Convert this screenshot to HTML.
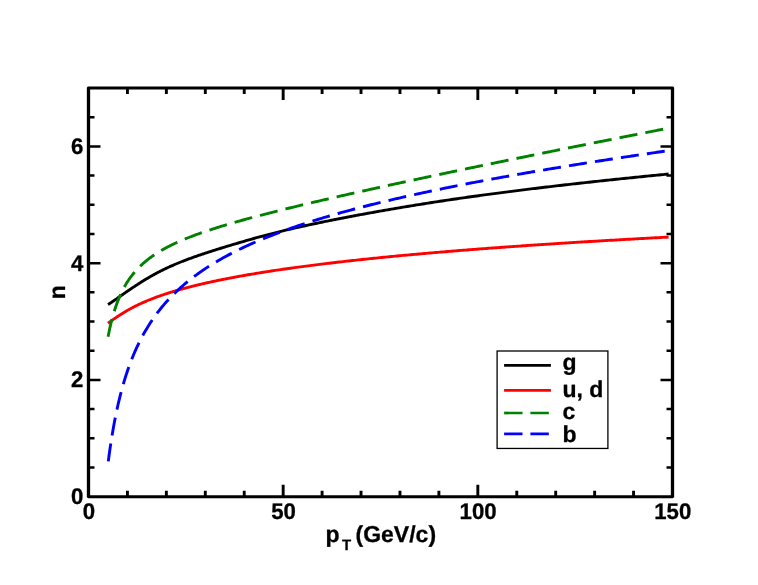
<!DOCTYPE html>
<html><head><meta charset="utf-8"><title>n vs pT</title>
<style>
html,body{margin:0;padding:0;background:#fff;}
svg{display:block;}
text{font-family:"Liberation Sans",sans-serif;font-weight:bold;fill:#000;stroke:#000;stroke-width:0.3px;stroke-linejoin:round;text-rendering:geometricPrecision;}
</style></head><body>
<div style="will-change:transform;width:758px;height:585px;">
<svg width="758" height="585" viewBox="0 0 758 585">
<rect x="0" y="0" width="758" height="585" fill="#fff"/>
<g fill="none" stroke-linejoin="round">
<path d="M107.97,304.58 L108.58,304.21 L109.19,303.83 L109.80,303.44 L110.42,303.04 L111.03,302.64 L111.64,302.23 L112.25,301.82 L112.86,301.41 L113.48,300.99 L114.09,300.56 L114.70,300.14 L115.31,299.71 L115.92,299.28 L116.54,298.86 L117.15,298.42 L117.76,297.99 L118.37,297.56 L118.99,297.13 L119.60,296.70 L120.21,296.27 L120.82,295.83 L121.43,295.40 L122.05,294.97 L122.66,294.54 L123.27,294.11 L123.88,293.68 L124.49,293.26 L125.11,292.83 L125.72,292.40 L126.33,291.98 L126.94,291.56 L127.56,291.14 L128.17,290.72 L128.78,290.30 L129.39,289.88 L130.00,289.46 L130.62,289.05 L131.23,288.63 L131.84,288.22 L132.45,287.81 L133.07,287.40 L133.68,287.00 L134.29,286.59 L134.90,286.19 L135.51,285.79 L136.13,285.38 L136.74,284.99 L137.35,284.59 L137.96,284.19 L138.57,283.80 L139.19,283.41 L139.80,283.02 L140.41,282.63 L141.02,282.24 L141.64,281.85 L142.25,281.47 L142.86,281.09 L143.47,280.71 L144.08,280.34 L144.70,279.96 L145.31,279.59 L145.92,279.22 L146.53,278.85 L147.14,278.49 L147.76,278.13 L148.37,277.77 L148.98,277.41 L149.59,277.05 L150.21,276.70 L150.82,276.35 L151.43,276.00 L152.04,275.65 L152.65,275.31 L153.27,274.97 L153.88,274.63 L154.49,274.30 L155.10,273.96 L155.72,273.63 L156.33,273.30 L156.94,272.98 L157.55,272.65 L158.16,272.33 L158.78,272.01 L159.39,271.70 L160.00,271.38 L160.61,271.07 L161.22,270.76 L161.84,270.45 L162.45,270.15 L163.06,269.85 L163.67,269.55 L164.29,269.25 L164.90,268.95 L165.51,268.66 L166.12,268.37 L166.73,268.08 L167.35,267.79 L167.96,267.51 L168.57,267.23 L169.18,266.95 L169.79,266.67 L170.41,266.39 L171.02,266.12 L171.63,265.85 L172.24,265.58 L172.86,265.31 L173.47,265.05 L174.08,264.79 L174.69,264.52 L175.30,264.26 L175.92,264.01 L176.53,263.75 L177.14,263.50 L177.75,263.24 L178.36,262.99 L178.98,262.74 L179.59,262.50 L180.20,262.25 L180.81,262.00 L181.43,261.76 L182.04,261.52 L182.65,261.28 L183.26,261.04 L183.87,260.80 L184.49,260.57 L185.10,260.33 L185.71,260.10 L186.32,259.87 L186.94,259.63 L187.55,259.40 L188.16,259.18 L188.77,258.95 L189.38,258.72 L190.00,258.50 L190.61,258.27 L191.22,258.05 L191.83,257.83 L192.44,257.61 L193.06,257.39 L193.67,257.17 L194.28,256.95 L194.89,256.73 L195.51,256.52 L196.12,256.30 L196.73,256.09 L197.34,255.88 L197.95,255.66 L198.57,255.45 L199.18,255.24 L199.79,255.03 L200.40,254.82 L201.01,254.62 L201.63,254.41 L202.24,254.20 L202.85,254.00 L203.46,253.79 L204.08,253.59 L204.69,253.38 L205.30,253.18 L207.24,252.55 L209.18,251.92 L211.12,251.29 L213.05,250.67 L214.99,250.06 L216.93,249.45 L218.87,248.85 L220.81,248.25 L222.75,247.65 L224.69,247.06 L226.62,246.47 L228.56,245.88 L230.50,245.30 L232.44,244.72 L234.38,244.14 L236.32,243.57 L238.25,243.00 L240.19,242.43 L242.13,241.86 L244.07,241.29 L246.01,240.73 L247.95,240.17 L249.89,239.61 L251.82,239.05 L253.76,238.50 L255.70,237.95 L257.64,237.41 L259.58,236.87 L261.52,236.34 L263.46,235.82 L265.39,235.30 L267.33,234.78 L269.27,234.28 L271.21,233.78 L273.15,233.28 L275.09,232.79 L277.03,232.31 L278.96,231.83 L280.90,231.35 L282.84,230.88 L284.78,230.41 L286.72,229.95 L288.66,229.49 L290.59,229.04 L292.53,228.59 L294.47,228.14 L296.41,227.70 L298.35,227.26 L300.29,226.83 L302.23,226.39 L304.16,225.97 L306.10,225.54 L308.04,225.12 L309.98,224.70 L311.92,224.28 L313.86,223.87 L315.80,223.46 L317.73,223.05 L319.67,222.65 L321.61,222.25 L323.55,221.85 L325.49,221.45 L327.43,221.06 L329.37,220.67 L331.30,220.28 L333.24,219.89 L335.18,219.50 L337.12,219.12 L339.06,218.74 L341.00,218.36 L342.94,217.99 L344.87,217.61 L346.81,217.24 L348.75,216.87 L350.69,216.50 L352.63,216.13 L354.57,215.77 L356.50,215.41 L358.44,215.04 L360.38,214.68 L362.32,214.33 L364.26,213.97 L366.20,213.62 L368.14,213.26 L370.07,212.91 L372.01,212.56 L373.95,212.21 L375.89,211.86 L377.83,211.52 L379.77,211.17 L381.71,210.83 L383.64,210.49 L385.58,210.15 L387.52,209.82 L389.46,209.48 L391.40,209.15 L393.34,208.81 L395.28,208.48 L397.21,208.15 L399.15,207.82 L401.09,207.50 L403.03,207.17 L404.97,206.85 L406.91,206.53 L408.84,206.21 L410.78,205.89 L412.72,205.57 L414.66,205.26 L416.60,204.94 L418.54,204.63 L420.48,204.32 L422.41,204.01 L424.35,203.70 L426.29,203.40 L428.23,203.09 L430.17,202.79 L432.11,202.49 L434.05,202.19 L435.98,201.89 L437.92,201.59 L439.86,201.30 L441.80,201.00 L443.74,200.71 L445.68,200.42 L447.62,200.13 L449.55,199.84 L451.49,199.55 L453.43,199.27 L455.37,198.98 L457.31,198.70 L459.25,198.42 L461.18,198.14 L463.12,197.86 L465.06,197.59 L467.00,197.31 L468.94,197.04 L470.88,196.76 L472.82,196.49 L474.75,196.22 L476.69,195.95 L478.63,195.69 L480.57,195.42 L482.51,195.16 L484.45,194.89 L486.39,194.63 L488.32,194.37 L490.26,194.11 L492.20,193.85 L494.14,193.59 L496.08,193.34 L498.02,193.08 L499.96,192.83 L501.89,192.57 L503.83,192.32 L505.77,192.07 L507.71,191.82 L509.65,191.57 L511.59,191.33 L513.52,191.08 L515.46,190.84 L517.40,190.59 L519.34,190.35 L521.28,190.11 L523.22,189.86 L525.16,189.62 L527.09,189.39 L529.03,189.15 L530.97,188.91 L532.91,188.67 L534.85,188.44 L536.79,188.20 L538.73,187.97 L540.66,187.74 L542.60,187.51 L544.54,187.27 L546.48,187.04 L548.42,186.82 L550.36,186.59 L552.30,186.36 L554.23,186.13 L556.17,185.91 L558.11,185.68 L560.05,185.46 L561.99,185.24 L563.93,185.01 L565.87,184.79 L567.80,184.57 L569.74,184.35 L571.68,184.13 L573.62,183.91 L575.56,183.70 L577.50,183.48 L579.43,183.26 L581.37,183.05 L583.31,182.83 L585.25,182.62 L587.19,182.41 L589.13,182.19 L591.07,181.98 L593.00,181.77 L594.94,181.56 L596.88,181.35 L598.82,181.14 L600.76,180.93 L602.70,180.73 L604.64,180.52 L606.57,180.31 L608.51,180.11 L610.45,179.90 L612.39,179.70 L614.33,179.49 L616.27,179.29 L618.21,179.09 L620.14,178.89 L622.08,178.68 L624.02,178.48 L625.96,178.28 L627.90,178.08 L629.84,177.88 L631.77,177.69 L633.71,177.49 L635.65,177.29 L637.59,177.10 L639.53,176.90 L641.47,176.70 L643.41,176.51 L645.34,176.31 L647.28,176.12 L649.22,175.93 L651.16,175.74 L653.10,175.54 L655.04,175.35 L656.98,175.16 L658.91,174.97 L660.85,174.78 L662.79,174.59 L664.73,174.40 L666.67,174.21 L668.61,174.03" stroke="#000" stroke-width="2.9"/>
<path d="M107.97,323.21 L108.58,322.78 L109.19,322.35 L109.80,321.92 L110.42,321.49 L111.03,321.06 L111.64,320.63 L112.25,320.20 L112.86,319.77 L113.48,319.34 L114.09,318.91 L114.70,318.49 L115.31,318.07 L115.92,317.65 L116.54,317.24 L117.15,316.82 L117.76,316.42 L118.37,316.01 L118.99,315.61 L119.60,315.21 L120.21,314.82 L120.82,314.42 L121.43,314.04 L122.05,313.65 L122.66,313.27 L123.27,312.90 L123.88,312.52 L124.49,312.15 L125.11,311.79 L125.72,311.43 L126.33,311.07 L126.94,310.71 L127.56,310.36 L128.17,310.01 L128.78,309.67 L129.39,309.33 L130.00,308.99 L130.62,308.66 L131.23,308.33 L131.84,308.00 L132.45,307.67 L133.07,307.35 L133.68,307.04 L134.29,306.72 L134.90,306.41 L135.51,306.10 L136.13,305.80 L136.74,305.49 L137.35,305.19 L137.96,304.90 L138.57,304.61 L139.19,304.31 L139.80,304.03 L140.41,303.74 L141.02,303.46 L141.64,303.18 L142.25,302.90 L142.86,302.63 L143.47,302.36 L144.08,302.09 L144.70,301.82 L145.31,301.56 L145.92,301.30 L146.53,301.04 L147.14,300.78 L147.76,300.53 L148.37,300.27 L148.98,300.02 L149.59,299.77 L150.21,299.53 L150.82,299.28 L151.43,299.04 L152.04,298.80 L152.65,298.56 L153.27,298.33 L153.88,298.09 L154.49,297.86 L155.10,297.63 L155.72,297.40 L156.33,297.18 L156.94,296.95 L157.55,296.73 L158.16,296.51 L158.78,296.29 L159.39,296.07 L160.00,295.86 L160.61,295.64 L161.22,295.43 L161.84,295.22 L162.45,295.01 L163.06,294.80 L163.67,294.60 L164.29,294.39 L164.90,294.19 L165.51,293.99 L166.12,293.79 L166.73,293.59 L167.35,293.39 L167.96,293.19 L168.57,293.00 L169.18,292.80 L169.79,292.61 L170.41,292.42 L171.02,292.23 L171.63,292.04 L172.24,291.85 L172.86,291.67 L173.47,291.48 L174.08,291.30 L174.69,291.12 L175.30,290.94 L175.92,290.76 L176.53,290.58 L177.14,290.40 L177.75,290.22 L178.36,290.05 L178.98,289.87 L179.59,289.70 L180.20,289.52 L180.81,289.35 L181.43,289.18 L182.04,289.01 L182.65,288.84 L183.26,288.68 L183.87,288.51 L184.49,288.34 L185.10,288.18 L185.71,288.02 L186.32,287.85 L186.94,287.69 L187.55,287.53 L188.16,287.37 L188.77,287.21 L189.38,287.05 L190.00,286.89 L190.61,286.74 L191.22,286.58 L191.83,286.42 L192.44,286.27 L193.06,286.12 L193.67,285.96 L194.28,285.81 L194.89,285.66 L195.51,285.51 L196.12,285.36 L196.73,285.21 L197.34,285.06 L197.95,284.92 L198.57,284.77 L199.18,284.62 L199.79,284.48 L200.40,284.33 L201.01,284.19 L201.63,284.05 L202.24,283.90 L202.85,283.76 L203.46,283.62 L204.08,283.48 L204.69,283.34 L205.30,283.20 L207.24,282.76 L209.18,282.33 L211.12,281.91 L213.05,281.49 L214.99,281.08 L216.93,280.67 L218.87,280.27 L220.81,279.87 L222.75,279.48 L224.69,279.09 L226.62,278.71 L228.56,278.33 L230.50,277.96 L232.44,277.59 L234.38,277.23 L236.32,276.87 L238.25,276.52 L240.19,276.16 L242.13,275.82 L244.07,275.47 L246.01,275.13 L247.95,274.80 L249.89,274.47 L251.82,274.14 L253.76,273.81 L255.70,273.49 L257.64,273.17 L259.58,272.85 L261.52,272.54 L263.46,272.23 L265.39,271.92 L267.33,271.62 L269.27,271.32 L271.21,271.02 L273.15,270.73 L275.09,270.44 L277.03,270.15 L278.96,269.86 L280.90,269.57 L282.84,269.29 L284.78,269.01 L286.72,268.74 L288.66,268.46 L290.59,268.19 L292.53,267.92 L294.47,267.65 L296.41,267.39 L298.35,267.12 L300.29,266.86 L302.23,266.60 L304.16,266.35 L306.10,266.09 L308.04,265.84 L309.98,265.59 L311.92,265.34 L313.86,265.10 L315.80,264.85 L317.73,264.61 L319.67,264.37 L321.61,264.13 L323.55,263.89 L325.49,263.65 L327.43,263.42 L329.37,263.19 L331.30,262.96 L333.24,262.73 L335.18,262.50 L337.12,262.28 L339.06,262.05 L341.00,261.83 L342.94,261.61 L344.87,261.39 L346.81,261.17 L348.75,260.96 L350.69,260.74 L352.63,260.53 L354.57,260.32 L356.50,260.11 L358.44,259.90 L360.38,259.69 L362.32,259.48 L364.26,259.28 L366.20,259.07 L368.14,258.87 L370.07,258.67 L372.01,258.47 L373.95,258.27 L375.89,258.07 L377.83,257.88 L379.77,257.68 L381.71,257.49 L383.64,257.30 L385.58,257.10 L387.52,256.91 L389.46,256.72 L391.40,256.54 L393.34,256.35 L395.28,256.16 L397.21,255.98 L399.15,255.79 L401.09,255.61 L403.03,255.43 L404.97,255.25 L406.91,255.07 L408.84,254.89 L410.78,254.71 L412.72,254.54 L414.66,254.36 L416.60,254.19 L418.54,254.01 L420.48,253.84 L422.41,253.67 L424.35,253.50 L426.29,253.33 L428.23,253.16 L430.17,252.99 L432.11,252.82 L434.05,252.66 L435.98,252.49 L437.92,252.33 L439.86,252.16 L441.80,252.00 L443.74,251.84 L445.68,251.68 L447.62,251.52 L449.55,251.36 L451.49,251.20 L453.43,251.04 L455.37,250.88 L457.31,250.72 L459.25,250.57 L461.18,250.41 L463.12,250.26 L465.06,250.11 L467.00,249.95 L468.94,249.80 L470.88,249.65 L472.82,249.50 L474.75,249.35 L476.69,249.20 L478.63,249.05 L480.57,248.90 L482.51,248.76 L484.45,248.61 L486.39,248.46 L488.32,248.32 L490.26,248.17 L492.20,248.03 L494.14,247.89 L496.08,247.75 L498.02,247.60 L499.96,247.46 L501.89,247.32 L503.83,247.18 L505.77,247.04 L507.71,246.90 L509.65,246.76 L511.59,246.63 L513.52,246.49 L515.46,246.35 L517.40,246.22 L519.34,246.08 L521.28,245.95 L523.22,245.81 L525.16,245.68 L527.09,245.55 L529.03,245.41 L530.97,245.28 L532.91,245.15 L534.85,245.02 L536.79,244.89 L538.73,244.76 L540.66,244.63 L542.60,244.50 L544.54,244.37 L546.48,244.25 L548.42,244.12 L550.36,243.99 L552.30,243.87 L554.23,243.74 L556.17,243.62 L558.11,243.49 L560.05,243.37 L561.99,243.24 L563.93,243.12 L565.87,243.00 L567.80,242.88 L569.74,242.75 L571.68,242.63 L573.62,242.51 L575.56,242.39 L577.50,242.27 L579.43,242.15 L581.37,242.03 L583.31,241.91 L585.25,241.80 L587.19,241.68 L589.13,241.56 L591.07,241.44 L593.00,241.33 L594.94,241.21 L596.88,241.10 L598.82,240.98 L600.76,240.87 L602.70,240.75 L604.64,240.64 L606.57,240.53 L608.51,240.41 L610.45,240.30 L612.39,240.19 L614.33,240.08 L616.27,239.96 L618.21,239.85 L620.14,239.74 L622.08,239.63 L624.02,239.52 L625.96,239.41 L627.90,239.30 L629.84,239.19 L631.77,239.09 L633.71,238.98 L635.65,238.87 L637.59,238.76 L639.53,238.66 L641.47,238.55 L643.41,238.44 L645.34,238.34 L647.28,238.23 L649.22,238.13 L651.16,238.02 L653.10,237.92 L655.04,237.81 L656.98,237.71 L658.91,237.61 L660.85,237.50 L662.79,237.40 L664.73,237.30 L666.67,237.20 L668.61,237.09" stroke="#ff0000" stroke-width="2.9"/>
<path d="M107.97,337.40 L108.58,334.20 L109.19,331.17 L109.80,328.31 L110.42,325.59 L111.03,323.01 L111.64,320.55 L112.25,318.20 L112.86,315.97 L113.48,313.83 L114.09,311.78 L114.70,309.83 L115.31,307.95 L115.92,306.14 L116.54,304.41 L117.15,302.75 L117.76,301.14 L118.37,299.60 L118.99,298.11 L119.60,296.67 L120.21,295.28 L120.82,293.94 L121.43,292.64 L122.05,291.38 L122.66,290.16 L123.27,288.98 L123.88,287.84 L124.49,286.73 L125.11,285.65 L125.72,284.61 L126.33,283.59 L126.94,282.60 L127.56,281.64 L128.17,280.70 L128.78,279.79 L129.39,278.90 L130.00,278.03 L130.62,277.18 L131.23,276.36 L131.84,275.55 L132.45,274.77 L133.07,274.00 L133.68,273.25 L134.29,272.51 L134.90,271.79 L135.51,271.09 L136.13,270.41 L136.74,269.73 L137.35,269.07 L137.96,268.43 L138.57,267.79 L139.19,267.17 L139.80,266.56 L140.41,265.97 L141.02,265.38 L141.64,264.81 L142.25,264.24 L142.86,263.69 L143.47,263.14 L144.08,262.61 L144.70,262.08 L145.31,261.57 L145.92,261.06 L146.53,260.56 L147.14,260.07 L147.76,259.58 L148.37,259.10 L148.98,258.63 L149.59,258.17 L150.21,257.72 L150.82,257.27 L151.43,256.83 L152.04,256.39 L152.65,255.96 L153.27,255.54 L153.88,255.12 L154.49,254.71 L155.10,254.30 L155.72,253.90 L156.33,253.51 L156.94,253.12 L157.55,252.73 L158.16,252.35 L158.78,251.97 L159.39,251.60 L160.00,251.23 L160.61,250.87 L161.22,250.51 L161.84,250.16 L162.45,249.81 L163.06,249.46 L163.67,249.12 L164.29,248.78 L164.90,248.44 L165.51,248.11 L166.12,247.78 L166.73,247.46 L167.35,247.14 L167.96,246.82 L168.57,246.50 L169.18,246.19 L169.79,245.88 L170.41,245.58 L171.02,245.27 L171.63,244.97 L172.24,244.67 L172.86,244.38 L173.47,244.09 L174.08,243.80 L174.69,243.51 L175.30,243.23 L175.92,242.94 L176.53,242.66 L177.14,242.39 L177.75,242.11 L178.36,241.84 L178.98,241.57 L179.59,241.30 L180.20,241.03 L180.81,240.76 L181.43,240.50 L182.04,240.24 L182.65,239.98 L183.26,239.72 L183.87,239.47 L184.49,239.22 L185.10,238.96 L185.71,238.71 L186.32,238.47 L186.94,238.22 L187.55,237.97 L188.16,237.73 L188.77,237.49 L189.38,237.25 L190.00,237.01 L190.61,236.77 L191.22,236.54 L191.83,236.30 L192.44,236.07 L193.06,235.84 L193.67,235.61 L194.28,235.38 L194.89,235.15 L195.51,234.93 L196.12,234.70 L196.73,234.48 L197.34,234.26 L197.95,234.03 L198.57,233.81 L199.18,233.60 L199.79,233.38 L200.40,233.16 L201.01,232.95 L201.63,232.73 L202.24,232.52 L202.85,232.30 L203.46,232.09 L204.08,231.88 L204.69,231.67 L205.30,231.47 L207.24,230.81 L209.18,230.17 L211.12,229.53 L213.05,228.90 L214.99,228.28 L216.93,227.67 L218.87,227.07 L220.81,226.47 L222.75,225.88 L224.69,225.29 L226.62,224.71 L228.56,224.14 L230.50,223.57 L232.44,223.01 L234.38,222.45 L236.32,221.90 L238.25,221.35 L240.19,220.80 L242.13,220.26 L244.07,219.73 L246.01,219.19 L247.95,218.67 L249.89,218.14 L251.82,217.62 L253.76,217.10 L255.70,216.59 L257.64,216.07 L259.58,215.56 L261.52,215.06 L263.46,214.56 L265.39,214.06 L267.33,213.56 L269.27,213.06 L271.21,212.57 L273.15,212.08 L275.09,211.59 L277.03,211.10 L278.96,210.62 L280.90,210.14 L282.84,209.66 L284.78,209.18 L286.72,208.70 L288.66,208.23 L290.59,207.76 L292.53,207.29 L294.47,206.82 L296.41,206.35 L298.35,205.88 L300.29,205.42 L302.23,204.95 L304.16,204.49 L306.10,204.03 L308.04,203.57 L309.98,203.12 L311.92,202.66 L313.86,202.21 L315.80,201.75 L317.73,201.30 L319.67,200.85 L321.61,200.40 L323.55,199.95 L325.49,199.50 L327.43,199.05 L329.37,198.61 L331.30,198.16 L333.24,197.72 L335.18,197.28 L337.12,196.83 L339.06,196.39 L341.00,195.95 L342.94,195.51 L344.87,195.08 L346.81,194.64 L348.75,194.20 L350.69,193.77 L352.63,193.33 L354.57,192.90 L356.50,192.46 L358.44,192.03 L360.38,191.60 L362.32,191.17 L364.26,190.74 L366.20,190.31 L368.14,189.88 L370.07,189.45 L372.01,189.02 L373.95,188.59 L375.89,188.17 L377.83,187.74 L379.77,187.32 L381.71,186.89 L383.64,186.47 L385.58,186.04 L387.52,185.62 L389.46,185.20 L391.40,184.78 L393.34,184.36 L395.28,183.93 L397.21,183.51 L399.15,183.10 L401.09,182.68 L403.03,182.26 L404.97,181.84 L406.91,181.42 L408.84,181.00 L410.78,180.59 L412.72,180.17 L414.66,179.76 L416.60,179.34 L418.54,178.93 L420.48,178.51 L422.41,178.10 L424.35,177.69 L426.29,177.27 L428.23,176.86 L430.17,176.45 L432.11,176.04 L434.05,175.63 L435.98,175.22 L437.92,174.80 L439.86,174.39 L441.80,173.99 L443.74,173.58 L445.68,173.17 L447.62,172.76 L449.55,172.35 L451.49,171.94 L453.43,171.54 L455.37,171.13 L457.31,170.72 L459.25,170.32 L461.18,169.91 L463.12,169.51 L465.06,169.10 L467.00,168.70 L468.94,168.29 L470.88,167.89 L472.82,167.48 L474.75,167.08 L476.69,166.68 L478.63,166.28 L480.57,165.87 L482.51,165.47 L484.45,165.07 L486.39,164.67 L488.32,164.27 L490.26,163.87 L492.20,163.47 L494.14,163.07 L496.08,162.67 L498.02,162.27 L499.96,161.87 L501.89,161.47 L503.83,161.07 L505.77,160.67 L507.71,160.28 L509.65,159.88 L511.59,159.48 L513.52,159.08 L515.46,158.69 L517.40,158.29 L519.34,157.90 L521.28,157.50 L523.22,157.10 L525.16,156.71 L527.09,156.31 L529.03,155.92 L530.97,155.52 L532.91,155.13 L534.85,154.74 L536.79,154.34 L538.73,153.95 L540.66,153.56 L542.60,153.16 L544.54,152.77 L546.48,152.38 L548.42,151.99 L550.36,151.60 L552.30,151.20 L554.23,150.81 L556.17,150.42 L558.11,150.03 L560.05,149.64 L561.99,149.25 L563.93,148.86 L565.87,148.47 L567.80,148.08 L569.74,147.69 L571.68,147.30 L573.62,146.91 L575.56,146.53 L577.50,146.14 L579.43,145.75 L581.37,145.36 L583.31,144.97 L585.25,144.59 L587.19,144.20 L589.13,143.81 L591.07,143.43 L593.00,143.04 L594.94,142.65 L596.88,142.27 L598.82,141.88 L600.76,141.50 L602.70,141.11 L604.64,140.73 L606.57,140.34 L608.51,139.96 L610.45,139.57 L612.39,139.19 L614.33,138.81 L616.27,138.42 L618.21,138.04 L620.14,137.66 L622.08,137.27 L624.02,136.89 L625.96,136.51 L627.90,136.13 L629.84,135.74 L631.77,135.36 L633.71,134.98 L635.65,134.60 L637.59,134.22 L639.53,133.84 L641.47,133.46 L643.41,133.08 L645.34,132.70 L647.28,132.32 L649.22,131.94 L651.16,131.56 L653.10,131.18 L655.04,130.80 L656.98,130.42 L658.91,130.04 L660.85,129.66 L662.79,129.28 L664.73,128.90 L666.67,128.53 L668.61,128.15" stroke="#008200" stroke-width="2.9" stroke-dasharray="18.18 8.1" stroke-dashoffset="-0.6"/>
<path d="M108.25,461.67 L108.86,457.01 L109.47,452.55 L110.08,448.26 L110.69,444.14 L111.30,440.19 L111.91,436.38 L112.52,432.70 L113.13,429.17 L113.74,425.75 L114.35,422.45 L114.96,419.26 L115.57,416.18 L116.18,413.19 L116.79,410.30 L117.40,407.49 L118.01,404.77 L118.62,402.13 L119.23,399.57 L119.84,397.08 L120.46,394.66 L121.07,392.30 L121.68,390.01 L122.29,387.78 L122.90,385.60 L123.51,383.48 L124.12,381.41 L124.73,379.40 L125.34,377.43 L125.95,375.50 L126.56,373.63 L127.17,371.79 L127.78,370.00 L128.39,368.24 L129.00,366.53 L129.61,364.85 L130.22,363.20 L130.83,361.59 L131.44,360.02 L132.05,358.47 L132.66,356.95 L133.27,355.47 L133.88,354.01 L134.49,352.58 L135.10,351.18 L135.72,349.80 L136.33,348.45 L136.94,347.12 L137.55,345.82 L138.16,344.54 L138.77,343.28 L139.38,342.04 L139.99,340.82 L140.60,339.63 L141.21,338.45 L141.82,337.29 L142.43,336.15 L143.04,335.03 L143.65,333.92 L144.26,332.83 L144.87,331.76 L145.48,330.71 L146.09,329.67 L146.70,328.64 L147.31,327.63 L147.92,326.64 L148.53,325.66 L149.14,324.69 L149.75,323.74 L150.36,322.80 L150.97,321.87 L151.59,320.95 L152.20,320.05 L152.81,319.16 L153.42,318.28 L154.03,317.41 L154.64,316.55 L155.25,315.70 L155.86,314.87 L156.47,314.04 L157.08,313.22 L157.69,312.42 L158.30,311.62 L158.91,310.83 L159.52,310.05 L160.13,309.28 L160.74,308.52 L161.35,307.77 L161.96,307.03 L162.57,306.29 L163.18,305.57 L163.79,304.85 L164.40,304.14 L165.01,303.43 L165.62,302.74 L166.23,302.05 L166.85,301.37 L167.46,300.69 L168.07,300.02 L168.68,299.36 L169.29,298.71 L169.90,298.06 L170.51,297.42 L171.12,296.79 L171.73,296.16 L172.34,295.54 L172.95,294.92 L173.56,294.31 L174.17,293.70 L174.78,293.10 L175.39,292.51 L176.00,291.92 L176.61,291.34 L177.22,290.76 L177.83,290.19 L178.44,289.62 L179.05,289.06 L179.66,288.50 L180.27,287.95 L180.88,287.40 L181.49,286.86 L182.11,286.32 L182.72,285.79 L183.33,285.26 L183.94,284.73 L184.55,284.21 L185.16,283.69 L185.77,283.18 L186.38,282.67 L186.99,282.17 L187.60,281.67 L188.21,281.17 L188.82,280.68 L189.43,280.19 L190.04,279.71 L190.65,279.23 L191.26,278.75 L191.87,278.28 L192.48,277.81 L193.09,277.34 L193.70,276.88 L194.31,276.42 L194.92,275.96 L195.53,275.51 L196.14,275.06 L196.75,274.61 L197.36,274.17 L197.98,273.73 L198.59,273.29 L199.20,272.85 L199.81,272.42 L200.42,271.99 L201.03,271.57 L201.64,271.15 L202.25,270.73 L202.86,270.31 L203.47,269.90 L204.08,269.49 L204.69,269.08 L205.30,268.67 L207.24,267.40 L209.18,266.15 L211.12,264.93 L213.05,263.73 L214.99,262.56 L216.93,261.40 L218.87,260.27 L220.81,259.16 L222.75,258.06 L224.69,256.99 L226.62,255.93 L228.56,254.90 L230.50,253.87 L232.44,252.87 L234.38,251.88 L236.32,250.91 L238.25,249.95 L240.19,249.00 L242.13,248.07 L244.07,247.16 L246.01,246.25 L247.95,245.36 L249.89,244.48 L251.82,243.62 L253.76,242.76 L255.70,241.92 L257.64,241.09 L259.58,240.27 L261.52,239.46 L263.46,238.65 L265.39,237.86 L267.33,237.08 L269.27,236.31 L271.21,235.55 L273.15,234.79 L275.09,234.05 L277.03,233.31 L278.96,232.58 L280.90,231.86 L282.84,231.15 L284.78,230.45 L286.72,229.75 L288.66,229.06 L290.59,228.38 L292.53,227.70 L294.47,227.03 L296.41,226.37 L298.35,225.72 L300.29,225.07 L302.23,224.42 L304.16,223.79 L306.10,223.15 L308.04,222.53 L309.98,221.91 L311.92,221.30 L313.86,220.69 L315.80,220.08 L317.73,219.49 L319.67,218.89 L321.61,218.31 L323.55,217.72 L325.49,217.15 L327.43,216.57 L329.37,216.01 L331.30,215.44 L333.24,214.88 L335.18,214.33 L337.12,213.78 L339.06,213.23 L341.00,212.69 L342.94,212.15 L344.87,211.62 L346.81,211.09 L348.75,210.56 L350.69,210.04 L352.63,209.52 L354.57,209.00 L356.50,208.49 L358.44,207.99 L360.38,207.48 L362.32,206.98 L364.26,206.48 L366.20,205.99 L368.14,205.50 L370.07,205.01 L372.01,204.52 L373.95,204.04 L375.89,203.56 L377.83,203.09 L379.77,202.62 L381.71,202.15 L383.64,201.68 L385.58,201.22 L387.52,200.75 L389.46,200.30 L391.40,199.84 L393.34,199.39 L395.28,198.94 L397.21,198.49 L399.15,198.04 L401.09,197.60 L403.03,197.16 L404.97,196.72 L406.91,196.28 L408.84,195.85 L410.78,195.42 L412.72,194.99 L414.66,194.56 L416.60,194.14 L418.54,193.72 L420.48,193.30 L422.41,192.88 L424.35,192.46 L426.29,192.05 L428.23,191.64 L430.17,191.23 L432.11,190.82 L434.05,190.41 L435.98,190.01 L437.92,189.61 L439.86,189.21 L441.80,188.81 L443.74,188.41 L445.68,188.02 L447.62,187.63 L449.55,187.23 L451.49,186.84 L453.43,186.46 L455.37,186.07 L457.31,185.69 L459.25,185.30 L461.18,184.92 L463.12,184.54 L465.06,184.16 L467.00,183.79 L468.94,183.41 L470.88,183.04 L472.82,182.67 L474.75,182.30 L476.69,181.93 L478.63,181.56 L480.57,181.20 L482.51,180.83 L484.45,180.47 L486.39,180.11 L488.32,179.75 L490.26,179.39 L492.20,179.03 L494.14,178.67 L496.08,178.32 L498.02,177.96 L499.96,177.61 L501.89,177.26 L503.83,176.91 L505.77,176.56 L507.71,176.21 L509.65,175.87 L511.59,175.52 L513.52,175.18 L515.46,174.84 L517.40,174.50 L519.34,174.15 L521.28,173.82 L523.22,173.48 L525.16,173.14 L527.09,172.80 L529.03,172.47 L530.97,172.14 L532.91,171.80 L534.85,171.47 L536.79,171.14 L538.73,170.81 L540.66,170.48 L542.60,170.15 L544.54,169.83 L546.48,169.50 L548.42,169.18 L550.36,168.85 L552.30,168.53 L554.23,168.21 L556.17,167.89 L558.11,167.57 L560.05,167.25 L561.99,166.93 L563.93,166.62 L565.87,166.30 L567.80,165.98 L569.74,165.67 L571.68,165.36 L573.62,165.04 L575.56,164.73 L577.50,164.42 L579.43,164.11 L581.37,163.80 L583.31,163.49 L585.25,163.18 L587.19,162.88 L589.13,162.57 L591.07,162.27 L593.00,161.96 L594.94,161.66 L596.88,161.35 L598.82,161.05 L600.76,160.75 L602.70,160.45 L604.64,160.15 L606.57,159.85 L608.51,159.55 L610.45,159.25 L612.39,158.96 L614.33,158.66 L616.27,158.36 L618.21,158.07 L620.14,157.78 L622.08,157.48 L624.02,157.19 L625.96,156.90 L627.90,156.60 L629.84,156.31 L631.77,156.02 L633.71,155.73 L635.65,155.44 L637.59,155.16 L639.53,154.87 L641.47,154.58 L643.41,154.29 L645.34,154.01 L647.28,153.72 L649.22,153.44 L651.16,153.15 L653.10,152.87 L655.04,152.59 L656.98,152.31 L658.91,152.02 L660.85,151.74 L662.79,151.46 L664.73,151.18 L666.67,150.90 L668.61,150.62" stroke="#0000ff" stroke-width="2.9" stroke-dasharray="18.06 8.2" stroke-dashoffset="-0.3"/>
</g>
<path d="M127.43,496.7 v-6 M127.43,88.0 v6 M166.37,496.7 v-6 M166.37,88.0 v6 M205.30,496.7 v-6 M205.30,88.0 v6 M244.23,496.7 v-6 M244.23,88.0 v6 M283.17,496.7 v-12 M283.17,88.0 v12 M322.10,496.7 v-6 M322.10,88.0 v6 M361.03,496.7 v-6 M361.03,88.0 v6 M399.97,496.7 v-6 M399.97,88.0 v6 M438.90,496.7 v-6 M438.90,88.0 v6 M477.83,496.7 v-12 M477.83,88.0 v12 M516.77,496.7 v-6 M516.77,88.0 v6 M555.70,496.7 v-6 M555.70,88.0 v6 M594.63,496.7 v-6 M594.63,88.0 v6 M633.57,496.7 v-6 M633.57,88.0 v6" stroke="#000" stroke-width="2.9" fill="none"/>
<path d="M88.5,467.51 h6 M672.5,467.51 h-6 M88.5,438.31 h6 M672.5,438.31 h-6 M88.5,409.12 h6 M672.5,409.12 h-6 M88.5,379.93 h12 M672.5,379.93 h-12 M88.5,350.74 h6 M672.5,350.74 h-6 M88.5,321.54 h6 M672.5,321.54 h-6 M88.5,292.35 h6 M672.5,292.35 h-6 M88.5,263.16 h12 M672.5,263.16 h-12 M88.5,233.96 h6 M672.5,233.96 h-6 M88.5,204.77 h6 M672.5,204.77 h-6 M88.5,175.58 h6 M672.5,175.58 h-6 M88.5,146.39 h12 M672.5,146.39 h-12 M88.5,117.19 h6 M672.5,117.19 h-6" stroke="#000" stroke-width="2.5" fill="none"/>
<rect x="88.5" y="88.0" width="584.0" height="408.7" fill="none" stroke="#000" stroke-width="2.9" stroke-linejoin="round"/>
<path d="M88.5,87.4 V497.3 M672.5,87.4 V497.3" fill="none" stroke="#000" stroke-width="3.3"/>
<text font-size="22.2" text-anchor="end" transform="translate(83.3,504.20) scale(1,1.02)">0</text>
<text font-size="22.2" text-anchor="end" transform="translate(83.3,387.43) scale(1,1.02)">2</text>
<text font-size="22.2" text-anchor="end" transform="translate(83.3,270.66) scale(1,1.02)">4</text>
<text font-size="22.2" text-anchor="end" transform="translate(83.3,153.89) scale(1,1.02)">6</text>
<text font-size="22.2" text-anchor="middle" transform="translate(88.80,519.1) scale(1,1.02)">0</text>
<text font-size="22.2" text-anchor="middle" transform="translate(283.47,519.1) scale(1,1.02)">50</text>
<text font-size="22.2" text-anchor="middle" transform="translate(478.13,519.1) scale(1,1.02)">100</text>
<text font-size="22.2" text-anchor="middle" transform="translate(672.80,519.1) scale(1,1.02)">150</text>
<text font-size="23" x="325.4" y="541.7">p<tspan font-size="15" dy="8.4" dx="2.6">T</tspan><tspan dy="-8.4" dx="-2.1"> (GeV/c)</tspan></text>
<text font-size="23" transform="translate(65.3,292.1) rotate(-90)" text-anchor="middle">n</text>
<rect x="497.1" y="351" width="110.8" height="97.45" fill="#fff" stroke="#000" stroke-width="1.3"/>
<g fill="none" stroke-width="2.7">
<path d="M504.1,365.4 H550.9" stroke="#000"/>
<path d="M504.1,390.3 H550.9" stroke="#ff0000"/>
<path d="M504.1,413 H550.9" stroke="#008200" stroke-dasharray="18.4 7.9"/>
<path d="M504.1,433.9 H550.9" stroke="#0000ff" stroke-dasharray="18.4 7.9"/>
</g>
<g font-size="23">
<text x="562.5" y="369.55">g</text>
<text x="562.5" y="397.4">u, d</text>
<text x="562.5" y="419.1">c</text>
<text x="562.5" y="442.0">b</text>
</g>
</svg>
</div>
</body></html>
